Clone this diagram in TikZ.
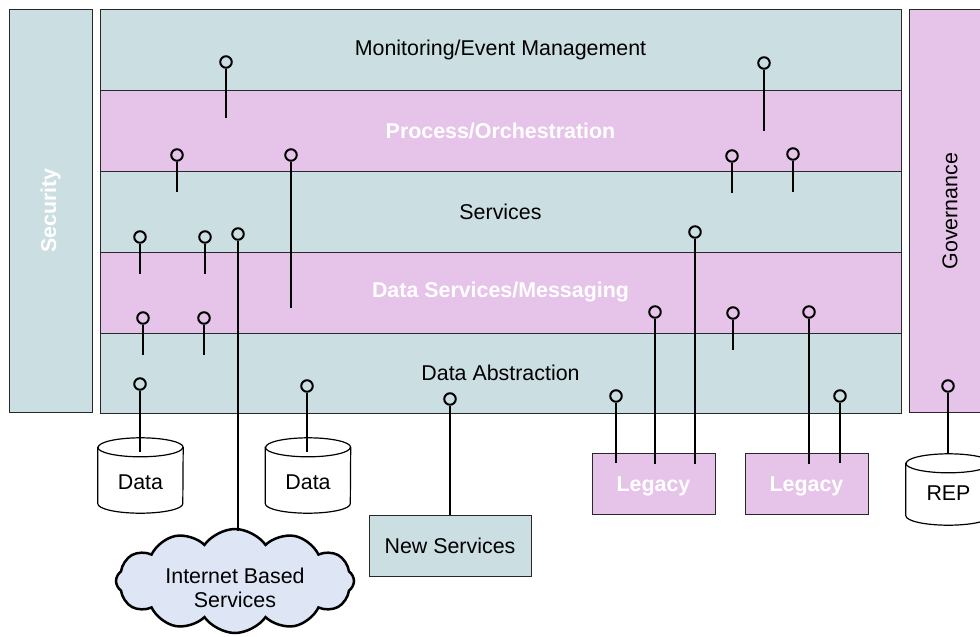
\documentclass[tikz,border=0pt]{standalone}
\usepackage{fontspec}
\setmainfont{Liberation Sans}
\usetikzlibrary{shapes.symbols,calc}
\definecolor{tealbg}{RGB}{203,222,226}
\definecolor{pinkbg}{RGB}{230,195,233}
\definecolor{cloudbg}{RGB}{222,230,246}
\definecolor{edge}{RGB}{40,40,40}
\tikzset{
  txt/.style={font=\fontsize{21.4}{24}\selectfont},
  btxt/.style={font=\fontsize{21.4}{24}\selectfont\bfseries, text=white},
  band/.style={draw=edge, line width=1pt, minimum width=801pt, minimum height=81pt, inner sep=0pt},
  tband/.style={band, fill=tealbg, txt},
  pband/.style={band, fill=pinkbg, btxt},
  sidebar/.style={draw=edge, line width=1pt, rotate=90, minimum width=403pt, minimum height=83pt, inner sep=0pt},
  lolli/.style={circle, draw=black, line width=2pt, minimum size=11.5pt, inner sep=0pt},
  stem/.style={draw=black, line width=2.2pt},
  boxt/.style={draw=edge, line width=1pt, fill=tealbg, inner sep=0pt, minimum height=61pt, txt},
  boxp/.style={draw=edge, line width=1pt, fill=pinkbg, inner sep=0pt, minimum height=61pt, minimum width=123pt, btxt, text height=21pt, text depth=4.5pt},
  storebox/.style={rectangle, minimum width=85pt, minimum height=75pt, inner sep=0pt},
  storeline/.style={draw=black, fill=white, line width=1.2pt},
  storetext/.style={txt, yshift=-6.5pt},
  netcloud/.style={cloud, cloud puffs=12, cloud puff arc=110, cloud ignores aspect, draw=black, line width=2.5pt, fill=cloudbg, minimum width=238pt, minimum height=104pt, inner sep=0pt}
}
\newcommand\drawstore[1]{%
  \path[storeline] ($(#1.north west)+(0,9.5)$) -- ($(#1.south west)+(0,-9.5)$)
    arc[start angle=180, end angle=360, x radius=42.5pt, y radius=9.5pt]
    -- ($(#1.north east)+(0,9.5)$)
    arc[start angle=0, end angle=180, x radius=42.5pt, y radius=9.5pt] -- cycle;
  \draw[storeline, fill=none] ($(#1.north west)+(0,9.5)$)
    arc[start angle=180, end angle=360, x radius=42.5pt, y radius=9.5pt];
}
\begin{document}
\begin{tikzpicture}[x=1pt,y=-1pt]
\useasboundingbox (0,0) rectangle (980,637);
\begin{scope}
\clip (0,0) rectangle (980,637);
% layers
\node[tband] (mon) at (500.5,49.5) {Monitoring/Event Management};
\node[pband] (proc) at (500.5,130.5) {Process/Orchestration};
\node[tband] (serv) at (500.5,211.5) {Services};
\node[pband] (dsm) at (500.5,292.5) {Data Services/Messaging};
\node[tband, minimum height=80pt] (dabs) at (500.5,373) {Data Abstraction};
% side bars
\node[sidebar, fill=tealbg, btxt] (sec) at (50.5,210.5) {Security};
\node[sidebar, fill=pinkbg, txt, minimum height=82pt] (gov) at (950,211) {Governance};
% data stores
\node[storebox] (d1) at (140.5,475.5) {};
\node[storebox] (d2) at (308,475.5) {};
\node[storebox, minimum height=71pt] (rep) at (948.5,489.5) {};
\drawstore{d1}
\drawstore{d2}
\drawstore{rep}
\node[storetext] (d1t) at (d1) {Data};
\node[storetext] (d2t) at (d2) {Data};
\node[storetext, yshift=3pt] (rept) at (rep) {REP};
% boxes
\node[boxt, minimum width=162pt] (news) at (450,545.5) {New Services};
\node[boxp] (leg1) at (653.5,483.5) {Legacy};
\node[boxp] (leg2) at (806.5,483.5) {Legacy};
\node[netcloud, label={[txt, align=center, yshift=-7pt]center:Internet Based\\Services}] (net) at (235,581) {};
\end{scope}
% lollipops
\node[lolli] (l1) at (226,62) {};   \coordinate (e1) at (226,118);
\node[lolli] (l2) at (177,155) {};  \coordinate (e2) at (177,192);
\node[lolli] (l3) at (291,155) {};  \coordinate (e3) at (291,308);
\node[lolli] (l4) at (764,63) {};   \coordinate (e4) at (764,131);
\node[lolli] (l5) at (732,156) {};  \coordinate (e5) at (732,193);
\node[lolli] (l6) at (793,154) {};  \coordinate (e6) at (793,192);
\node[lolli] (l7) at (140,237) {};  \coordinate (e7) at (140,274);
\node[lolli] (l8) at (205,237) {};  \coordinate (e8) at (205,274);
\node[lolli] (l9) at (238,234) {};  \coordinate (e9) at (238,531);
\node[lolli] (l10) at (143,318) {}; \coordinate (e10) at (143,355);
\node[lolli] (l11) at (204,318) {}; \coordinate (e11) at (204,355);
\node[lolli] (l12) at (140,384) {}; \coordinate (e12) at (140,452);
\node[lolli] (l13) at (307,386) {}; \coordinate (e13) at (307,452);
\node[lolli] (l14) at (450,399) {}; \coordinate (e14) at (450,515);
\node[lolli] (l15) at (695,232) {}; \coordinate (e15) at (695,464);
\node[lolli] (l16) at (655,312) {}; \coordinate (e16) at (655,464);
\node[lolli] (l17) at (733,313) {}; \coordinate (e17) at (733,350);
\node[lolli] (l18) at (809,312) {}; \coordinate (e18) at (809,464);
\node[lolli] (l19) at (616,396) {}; \coordinate (e19) at (616,463);
\node[lolli] (l20) at (840,396) {}; \coordinate (e20) at (840,463);
\node[lolli] (l21) at (948,386) {}; \coordinate (e21) at (948,454);
\foreach \i in {1,...,21} { \draw[stem] (l\i) -- (e\i); }
\end{tikzpicture}
\end{document}
